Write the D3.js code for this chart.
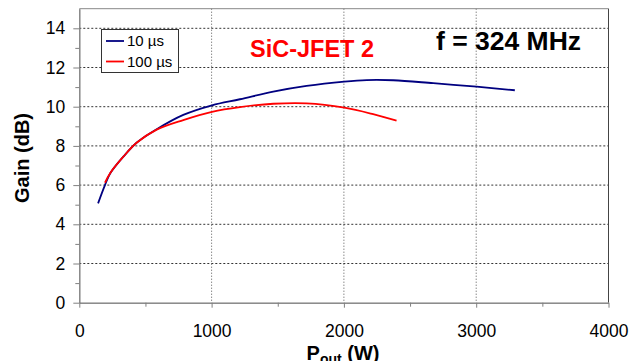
<!DOCTYPE html>
<html><head><meta charset="utf-8">
<script src="https://cdn.jsdelivr.net/npm/d3@7"></script>
<style>
body{margin:0;background:#fff;}
svg{display:block;font-family:"Liberation Sans",Arial,sans-serif;}
</style></head>
<body>
<svg id="chart" width="630" height="361"></svg>
<script>
// ---- data ----
const seriesNames = ["10 µs", "100 µs"];
const seriesColors = ["#000080", "#ff0000"];
const pout10 = [142, 194, 234, 333, 433, 585, 786, 1003, 1214, 1466, 1718, 2003, 2172, 2373, 2675, 3003, 3292];
const gain10 = [5.07, 6.0, 6.6, 7.45, 8.16, 8.85, 9.58, 10.07, 10.38, 10.77, 11.06, 11.28, 11.36, 11.35, 11.2, 11.02, 10.84];
const pout100 = [194, 234, 333, 433, 585, 786, 1003, 1214, 1466, 1718, 2003, 2221, 2398];
const gain100 = [6.12, 6.62, 7.45, 8.16, 8.83, 9.32, 9.74, 9.98, 10.15, 10.17, 9.95, 9.62, 9.29];
const xTicks = [0, 1000, 2000, 3000, 4000];
const xMinor = [500, 1500, 2500, 3500];
const yTicks = [0, 2, 4, 6, 8, 10, 12, 14];
const yMinor = [1, 3, 5, 7, 9, 11, 13];
const titleText = "SiC-JFET 2";
const freqText = "f = 324 MHz";

const svg = d3.select("#chart");
const L = 79.3, R = 608.5, T = 8.7, B = 302.7;
const x = d3.scaleLinear().domain([0, 4000]).range([L, R]);
const y = d3.scaleLinear().domain([0, 15]).range([B, T]);

// gridlines
svg.append("g").selectAll("line").data(yTicks.filter(d => d > 0)).join("line")
  .attr("x1", L).attr("x2", R).attr("y1", d => y(d)).attr("y2", d => y(d))
  .attr("stroke", "#333").attr("stroke-width", 1).attr("stroke-dasharray", "2,2");
svg.append("g").selectAll("line").data(xTicks.filter(d => d > 0 && d < 4000)).join("line")
  .attr("x1", d => x(d)).attr("x2", d => x(d)).attr("y1", T).attr("y2", B)
  .attr("stroke", "#555").attr("stroke-width", 1).attr("stroke-dasharray", "1,2");

// frame top / right
svg.append("line").attr("x1", L).attr("x2", R).attr("y1", T).attr("y2", T).attr("stroke", "#888");
svg.append("line").attr("x1", R).attr("x2", R).attr("y1", T).attr("y2", B).attr("stroke", "#444");

// axes
const gx = svg.append("g").attr("transform", `translate(0,${B})`)
  .call(d3.axisBottom(x).tickValues(xTicks).tickFormat(d3.format("d")).tickSize(5).tickSizeOuter(0).tickPadding(7));
const gxm = svg.append("g").attr("transform", `translate(0,${B})`)
  .call(d3.axisBottom(x).tickValues(xMinor).tickFormat("").tickSize(4).tickSizeOuter(0));
const gy = svg.append("g").attr("transform", `translate(${L},0)`)
  .call(d3.axisLeft(y).tickValues(yTicks).tickFormat(d3.format("d")).tickSize(6).tickSizeOuter(0).tickPadding(8));
const gym = svg.append("g").attr("transform", `translate(${L},0)`)
  .call(d3.axisLeft(y).tickValues(yMinor).tickFormat("").tickSize(4).tickSizeOuter(0));
[gx, gxm, gy, gym].forEach(g => {
  g.select(".domain").attr("stroke", "#808080");
  g.selectAll(".tick line").attr("stroke", "#808080");
  g.selectAll("text").attr("font-size", 17.5).attr("fill", "#000").attr("font-family", "Liberation Sans, Arial, sans-serif");
});
gx.selectAll("text").attr("dy", "1.25em");

// lines
const line = d3.line().x(d => x(d[0])).y(d => y(d[1])).curve(d3.curveCatmullRom.alpha(0.5));
const data = [d3.zip(pout10, gain10), d3.zip(pout100, gain100)];
svg.append("g").selectAll("path").data(data).join("path")
  .attr("d", line).attr("fill", "none")
  .attr("stroke", (d, i) => seriesColors[i]).attr("stroke-width", 1.8);

// legend
const lg = svg.append("g");
lg.append("rect").attr("x", 101.5).attr("y", 29.5).attr("width", 77).attr("height", 43)
  .attr("fill", "#fff").attr("stroke", "#333").attr("stroke-width", 1);
seriesNames.forEach((n, i) => {
  const yy = 41 + i * 20.5;
  lg.append("line").attr("x1", 106).attr("x2", 124).attr("y1", yy).attr("y2", yy)
    .attr("stroke", seriesColors[i]).attr("stroke-width", 1.8);
  lg.append("text").attr("x", 127).attr("y", yy + 5).attr("font-size", 15).text(n);
});

// annotations
svg.append("text").attr("x", 250).attr("y", 57).attr("font-size", 23.5).attr("font-weight", "bold")
  .attr("fill", "#ff0000").text(titleText);
svg.append("text").attr("x", 436).attr("y", 49.5).attr("font-size", 26.5).attr("font-weight", "bold")
  .attr("fill", "#000").text(freqText);

// axis titles
const xt = svg.append("text").attr("x", 343).attr("y", 360).attr("text-anchor", "middle")
  .attr("font-size", 20).attr("font-weight", "bold");
xt.append("tspan").text("P");
xt.append("tspan").attr("font-size", 14).attr("dy", 4).text("out");
xt.append("tspan").attr("dy", -4).text(" (W)");
svg.append("text").attr("transform", "translate(29,158) rotate(-90)").attr("text-anchor", "middle")
  .attr("font-size", 20).attr("font-weight", "bold").text("Gain (dB)");
</script>
</body></html>
